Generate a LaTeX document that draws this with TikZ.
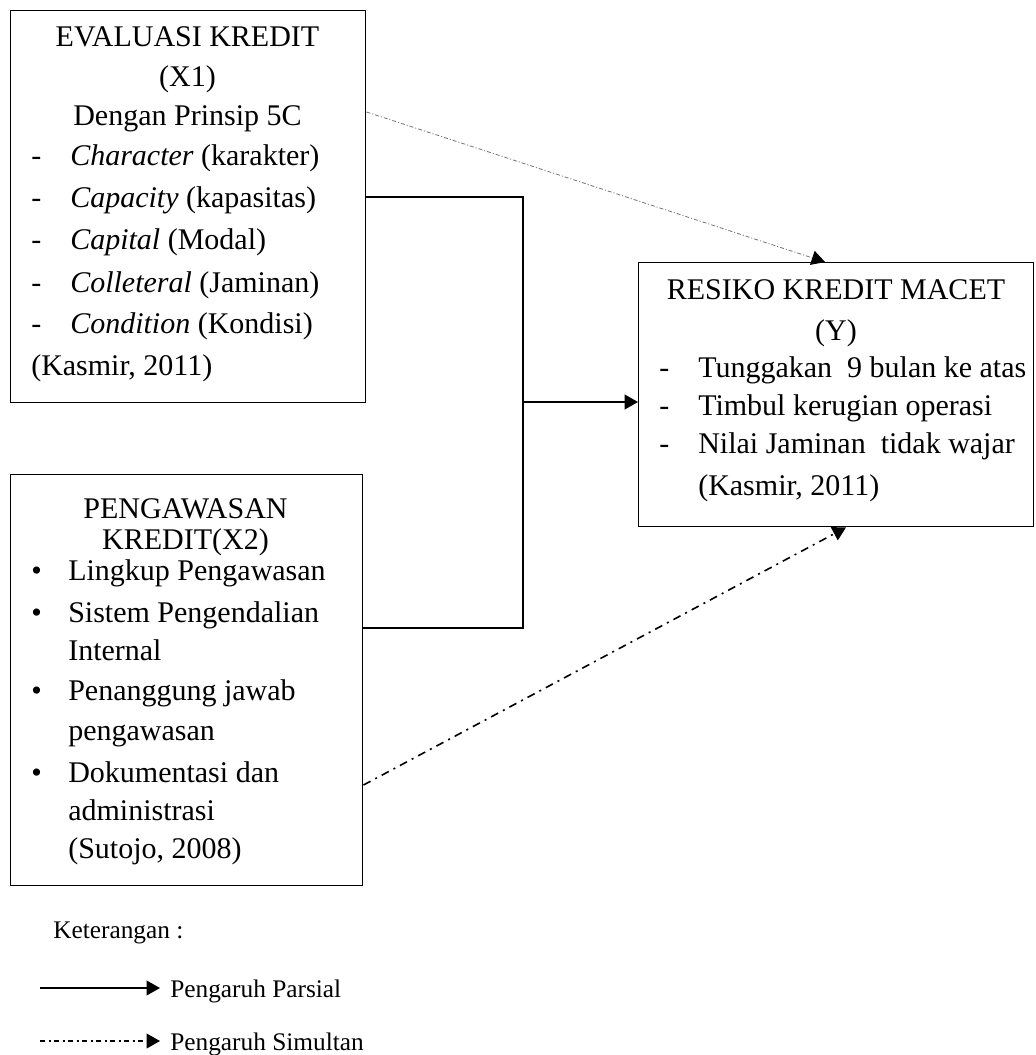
\documentclass[tikz,border=0pt]{standalone}
\usepackage{fontspec}
\setmainfont{Liberation Serif}
\usetikzlibrary{arrows.meta}
\tikzset{
  box/.style={draw, rectangle, line width=1.1pt, inner sep=0pt, anchor=north west},
  hd/.style={inner sep=0pt, anchor=base, font=\fontsize{22.5}{27}\selectfont},
  txt/.style={inner sep=0pt, anchor=base west, font=\fontsize{22.5}{27}\selectfont},
  lgd/.style={inner sep=0pt, anchor=base west, font=\fontsize{19}{23}\selectfont},
  parsial/.style={line width=1.5pt, -{Triangle[length=10pt,width=11pt]}},
  simultan/.style={line width=1.2pt, dash pattern=on 6pt off 4pt on 1.5pt off 4pt, -{Triangle[length=10pt,width=11pt]}},
  tipis/.style={line width=0.6pt, black!55, dash pattern=on 3pt off 1.5pt on 0.8pt off 1.5pt, -{Triangle[length=10pt,width=11pt,black]}}
}
\begin{document}
\begin{tikzpicture}[x=0.75pt, y=-0.75pt]
\useasboundingbox (0,0) rectangle (1035,1055);

% Draw the boxes
\node[box, minimum width=266.25pt, minimum height=294pt] (evaluasi) at (10,10) {};
\node[box, minimum width=264pt, minimum height=308.25pt] (pengawasan) at (10,474) {};
\node[box, minimum width=296.25pt, minimum height=198pt] (resiko) at (638,262) {};

% Text of box X1
\node[hd] (ev1) at (187.5,47) {EVALUASI KREDIT};
\node[hd] (ev2) at (187.5,87) {(X1)};
\node[hd] (ev3) at (187.5,126) {Dengan Prinsip 5C};
\node[txt] (evd1) at (31,166) {-};
\node[txt] (evi1) at (70,166) {\textit{Character} (karakter)};
\node[txt] (evd2) at (31,208) {-};
\node[txt] (evi2) at (70,208) {\textit{Capacity} (kapasitas)};
\node[txt] (evd3) at (31,250) {-};
\node[txt] (evi3) at (70,250) {\textit{Capital} (Modal)};
\node[txt] (evd4) at (31,292) {-};
\node[txt] (evi4) at (70,292) {\textit{Colleteral} (Jaminan)};
\node[txt] (evd5) at (31,333) {-};
\node[txt] (evi5) at (70,333) {\textit{Condition} (Kondisi)};
\node[txt] (evs) at (31,375) {(Kasmir, 2011)};

% Text of box X2
\node[hd] (pw1) at (185.5,518) {PENGAWASAN};
\node[hd] (pw2) at (185.5,549) {KREDIT(X2)};
\node[txt] (pwb1) at (31,580) {\textbullet};
\node[txt] (pwi1) at (68,580) {Lingkup Pengawasan};
\node[txt] (pwb2) at (31,622) {\textbullet};
\node[txt] (pwi2) at (68,622) {Sistem Pengendalian};
\node[txt] (pwi2b) at (68,660) {Internal};
\node[txt] (pwb3) at (31,700) {\textbullet};
\node[txt] (pwi3) at (68,700) {Penanggung jawab};
\node[txt] (pwi3b) at (68,740) {pengawasan};
\node[txt] (pwb4) at (31,782) {\textbullet};
\node[txt] (pwi4) at (68,782) {Dokumentasi dan};
\node[txt] (pwi4b) at (68,820) {administrasi};
\node[txt] (pws) at (68,858) {(Sutojo, 2008)};

% Text of box Y
\node[hd] (rk1) at (836,300) {RESIKO KREDIT MACET};
\node[hd] (rk2) at (836,340) {(Y)};
\node[txt] (rkd1) at (659,377) {-};
\node[txt] (rki1) at (698,377) {Tunggakan\ \ 9 bulan ke atas};
\node[txt] (rkd2) at (659,415) {-};
\node[txt] (rki2) at (698,415) {Timbul kerugian operasi};
\node[txt] (rkd3) at (659,453) {-};
\node[txt] (rki3) at (698,453) {Nilai Jaminan\ \ tidak wajar};
\node[txt] (rks) at (698,495) {(Kasmir, 2011)};

% Connectors
\coordinate (j) at (523,402);
\path (evaluasi.north east) ++(0,102) coordinate (ev-a) ++(0,85) coordinate (ev-b);
\path (pengawasan.north east) ++(0,154) coordinate (pw-a) ++(0,157) coordinate (pw-b);
\path (resiko.north west) ++(187,0) coordinate (rk-a);
\path (resiko.south west) ++(208,0) coordinate (rk-b);
\draw[line width=1.5pt] (ev-b) -| (j);
\draw[line width=1.5pt] (pw-a) -| (j);
\draw[parsial] (j) -- (j -| resiko.west);
\draw[tipis] (ev-a) -- (rk-a);
\draw[simultan] (pw-b) -- (rk-b);

% Legend
\node[lgd] (ket) at (53,938) {Keterangan :};
\node[lgd] (lp) at (170,997) {Pengaruh Parsial};
\node[lgd] (ls) at (170,1050) {Pengaruh Simultan};
\coordinate (lp0) at (40,988);
\coordinate (ls0) at (40,1041);
\draw[parsial, line width=1.2pt] (lp0) -- ([xshift=-7.5pt]lp0 -| lp.west);
\draw[line width=1.2pt, dash pattern=on 4pt off 2.5pt on 1.5pt off 2.5pt, -{Triangle[length=10pt,width=11pt]}] (ls0) -- ([xshift=-7.5pt]ls0 -| ls.west);
\end{tikzpicture}
\end{document}
